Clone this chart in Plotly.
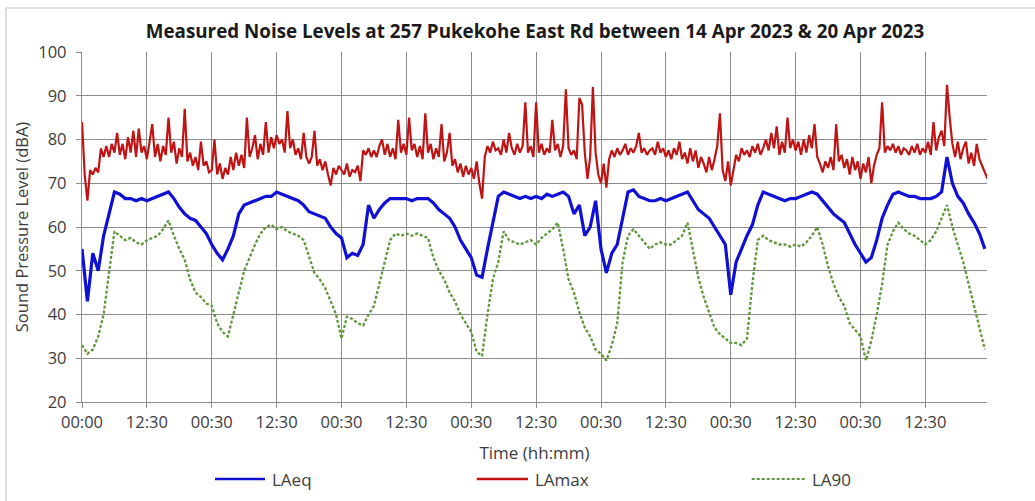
import plotly.graph_objects as go

# Measurement period: 14 Apr 2023 00:00 to 20 Apr 2023 ~23:30
TITLE = "Measured Noise Levels at 257 Pukekohe East Rd between 14 Apr 2023 & 20 Apr 2023"
SERIES = ["LAeq", "LAmax", "LA90"]

# Hourly LAeq (dBA), hour 0 .. 167
laeq = [
    55, 43, 54, 50, 58, 63, 68, 67.5, 66.5, 66.5, 66, 66.5, 66, 66.5, 67, 67.5, 68, 66.5, 64.5, 63, 62, 61.5, 60, 58.5,
    56, 54, 52.5, 55, 58, 63, 65, 65.5, 66, 66.5, 67, 67, 68, 67.5, 67, 66.5, 66, 65, 63.5, 63, 62.5, 62, 60, 58.5,
    57.5, 53, 54, 53.5, 56, 65, 62, 64, 65.5, 66.5, 66.5, 66.5, 66.5, 66, 66.5, 66.5, 66.5, 65.5, 64, 63, 62, 60, 57, 55,
    53, 49, 48.5, 55, 61, 67, 68, 67.5, 67, 66.5, 67, 66.5, 67, 66.5, 67.5, 67, 67.5, 68, 67, 63, 65, 58, 60, 66,
    55, 49.5, 54, 56, 62, 68, 68.5, 67, 66.5, 66, 66, 66.5, 66, 66.5, 67, 67.5, 68, 66, 64, 63, 62, 60, 58, 56,
    44.5, 52, 55, 58, 60.5, 65, 68, 67.5, 67, 66.5, 66, 66.5, 66.5, 67, 67.5, 68, 67.5, 66, 64.5, 63, 62, 61, 58.5, 56,
    54, 52, 53, 57, 62, 65, 67.5, 68, 67.5, 67, 67, 66.5, 66.5, 66.5, 67, 68, 76, 70, 67, 65.5, 63, 61, 58.5, 55,
]

# Hourly LA90 (dBA), hour 0 .. 167
la90 = [
    33, 31, 32, 35, 40, 50, 59, 58, 57, 57.5, 56.5, 56, 57, 57.5, 58, 59.5, 61.5, 58, 55, 52.5, 48, 45, 44, 42.5,
    42, 38, 36, 35, 40, 45, 50, 53, 56, 58.5, 60, 60.5, 59.5, 60, 59, 58.5, 58, 57, 53, 49.5, 48, 46, 43, 40,
    34.5, 39.5, 39, 38, 37.5, 40, 42, 47, 52, 57, 58.5, 58, 58.5, 58, 58.5, 58, 57.5, 53, 50, 48, 45, 43, 40, 38,
    36, 31.5, 30.5, 40, 48, 52, 59, 57, 56.5, 56, 56.5, 57, 56, 57.5, 58.5, 59.5, 61, 55, 48, 45, 40.5, 37, 35, 32,
    31, 29.5, 33, 38, 52, 58, 59.5, 58, 56.5, 55, 56, 56.5, 56, 56, 57, 58, 61, 55, 48.5, 44, 40.5, 37, 35.5, 34.5,
    33.5, 33.5, 33, 34.5, 47, 57, 58, 57, 56.5, 56, 56, 55.5, 56, 55.5, 56.5, 58, 60, 56, 51, 47, 44, 42, 38, 36.5,
    35, 29.5, 34, 40, 47, 56, 59, 61, 59.5, 58.5, 58, 57, 56, 57, 59, 62, 65, 60, 56, 52, 47, 42, 37, 32,
]

# Half-hourly LAmax (dBA), hour 0.0 .. 167.5
lamax = [
    84, 72, 66, 73, 72, 73.5, 72.5, 78, 76, 78.5, 76, 79, 77, 81.5, 76.5, 79, 75.5, 80.5, 77, 82, 76, 82.5, 77, 78.5,
    75.5, 80, 83.5, 76, 79, 75, 78.5, 76.5, 85, 77, 79.5, 74.5, 78, 76, 87, 75, 77, 74, 76, 73, 79.5, 74, 75, 72.5,
    73, 80, 72, 74.5, 71, 73.5, 72, 76, 73, 77, 74, 76.5, 73.5, 85, 76, 78, 81, 75.5, 79, 76.5, 84, 77, 80.5, 78,
    81, 79, 80, 77, 86.5, 78, 80, 76.5, 78, 75.5, 81.5, 76, 74.5, 76, 82, 74, 75.5, 73, 75, 72, 69.5, 73.5, 72, 74,
    73, 72, 74.5, 71.5, 73, 72.5, 74, 70.5, 77.5, 76.5, 78, 76, 77.5, 76, 78.5, 80, 76.5, 79, 76, 78, 75.5, 84.5, 77, 79,
    76.5, 85, 77.5, 79, 76, 78.5, 75.5, 86, 77, 79, 75.5, 78, 76, 83.5, 75, 77, 81.5, 74, 75.5, 72.5, 74.5, 71.5, 74, 72,
    73.5, 71, 75, 70, 66.5, 76, 78.5, 77, 79.5, 77.5, 78, 76.5, 80, 77, 81.5, 78, 76.5, 79, 77, 78.5, 88.5, 77, 78.5, 76,
    88.5, 77, 79, 76.5, 78, 77, 84.5, 77.5, 79, 76, 78.5, 91.5, 78, 76.5, 77.5, 75.5, 89.5, 88, 77, 71, 76, 92, 77, 72,
    70, 74.5, 69, 75.5, 77.5, 76, 78, 76.5, 77.5, 79, 76.5, 78, 77, 78.5, 81.5, 77, 78, 76.5, 77.5, 78, 76.5, 79.5, 77, 78,
    76, 77.5, 75.5, 78, 76.5, 79.5, 75.5, 77, 74.5, 78, 75, 77.5, 73.5, 76, 74.5, 72.5, 76, 73, 75.5, 78.5, 86, 73, 70.5, 75,
    69.5, 73, 76.5, 75, 78, 76.5, 77.5, 76, 78.5, 77, 79, 76.5, 78, 80, 77.5, 81.5, 78, 83, 76.5, 79.5, 77, 85, 78, 80,
    77.5, 79.5, 76.5, 80, 77, 81, 78, 83.5, 76, 74.5, 72.5, 75, 73.5, 76, 73, 83.5, 75, 76.5, 73.5, 75.5, 72, 76, 73, 75,
    71, 74.5, 72.5, 76, 70, 74, 76.5, 78, 88.5, 77, 78.5, 77.5, 79, 77, 78.5, 76.5, 78, 77.5, 76.5, 78.5, 77, 79, 76.5, 78,
    77, 79.5, 76.5, 84, 77.5, 80.5, 82, 78.5, 92.5, 85, 79, 76, 79.5, 75.5, 78, 79.5, 74.5, 77, 74, 79, 75.5, 74, 72.5, 71,
]

# Axis labelling: gridlines every 12 h
tick_hours = list(range(0, 157, 12))
tick_text = ["00:00", "12:30", "00:30", "12:30", "00:30", "12:30", "00:30",
             "12:30", "00:30", "12:30", "00:30", "12:30", "00:30", "12:30"]
y_ticks = [20, 30, 40, 50, 60, 70, 80, 90, 100]

hours_hourly = list(range(len(laeq)))
hours_half = [i * 0.5 for i in range(len(lamax))]

colors = {"LAeq": "#1010d4", "LAmax": "#c01414", "LA90": "#5f963c"}
FONT = "Open Sans"
TXT = "#3c3c3c"
GRID = "#8c8c8c"

fig = go.Figure()
fig.add_trace(go.Scatter(x=hours_hourly, y=laeq, name=SERIES[0], mode="lines",
                         line=dict(color=colors["LAeq"], width=3.2)))
fig.add_trace(go.Scatter(x=hours_half, y=lamax, name=SERIES[1], mode="lines",
                         line=dict(color=colors["LAmax"], width=2.2)))
fig.add_trace(go.Scatter(x=hours_hourly, y=la90, name=SERIES[2], mode="lines",
                         line=dict(color=colors["LA90"], width=2.3, dash="3px,2px")))

# Hand-laid legend row beneath the axis title
legend_items = [
    (SERIES[0], 0.1470, 0.2022, "solid", 2.5),
    (SERIES[1], 0.4362, 0.4928, "solid", 2.5),
    (SERIES[2], 0.7400, 0.7989, "3px,2px", 2.2),
]
shapes = []
annotations = []
for name, x0, x1, dash, w in legend_items:
    shapes.append(dict(type="line", xref="paper", yref="paper", x0=x0, x1=x1,
                       y0=-0.22, y1=-0.22, line=dict(color=colors[name], width=w, dash=dash)))
    annotations.append(dict(text=name, xref="paper", yref="paper", x=x1 + 0.005, y=-0.22,
                            xanchor="left", yanchor="middle", showarrow=False,
                            font=dict(family=FONT, size=17, color=TXT)))

# Light chart-area frame (top and left edges)
shapes.append(dict(type="line", xref="paper", yref="paper", x0=-0.084, x1=1.06,
                   y0=1.1257, y1=1.1257, line=dict(color="#d4d4d4", width=1.5)))
shapes.append(dict(type="line", xref="paper", yref="paper", x0=-0.084, x1=-0.084,
                   y0=1.1257, y1=-0.29, line=dict(color="#d4d4d4", width=1.5)))

fig.update_layout(
    width=1035, height=501,
    margin=dict(l=82, r=48, t=52, b=99),
    paper_bgcolor="white", plot_bgcolor="white",
    showlegend=False,
    title=dict(text="<b>" + TITLE + "</b>", x=0.5006, xref="paper", xanchor="center",
               y=1 - 31 / 501, yref="container", yanchor="middle",
               font=dict(family=FONT, size=18.8, color="#1a1a1a")),
    shapes=shapes,
    annotations=annotations,
    xaxis=dict(range=[0, 167.4], tickmode="array", tickvals=tick_hours, ticktext=tick_text,
               showgrid=True, gridcolor=GRID, gridwidth=1.3, zeroline=False,
               showline=True, linecolor=GRID, linewidth=1.3,
               ticks="outside", ticklen=5, tickcolor=GRID,
               tickfont=dict(family=FONT, size=16.5, color=TXT),
               title=dict(text="Time (hh:mm)", standoff=15,
                          font=dict(family=FONT, size=17, color=TXT))),
    yaxis=dict(range=[20, 100], tickmode="array", tickvals=y_ticks,
               showgrid=True, gridcolor=GRID, gridwidth=1.3, zeroline=False,
               showline=True, linecolor=GRID, linewidth=1.3,
               ticks="outside", ticklen=5, tickcolor=GRID, ticklabelstandoff=6,
               tickfont=dict(family=FONT, size=16.5, color=TXT),
               title=dict(text="Sound Pressure Level (dBA)", standoff=5,
                          font=dict(family=FONT, size=16.5, color=TXT))),
)

fig.write_html("out.html")
